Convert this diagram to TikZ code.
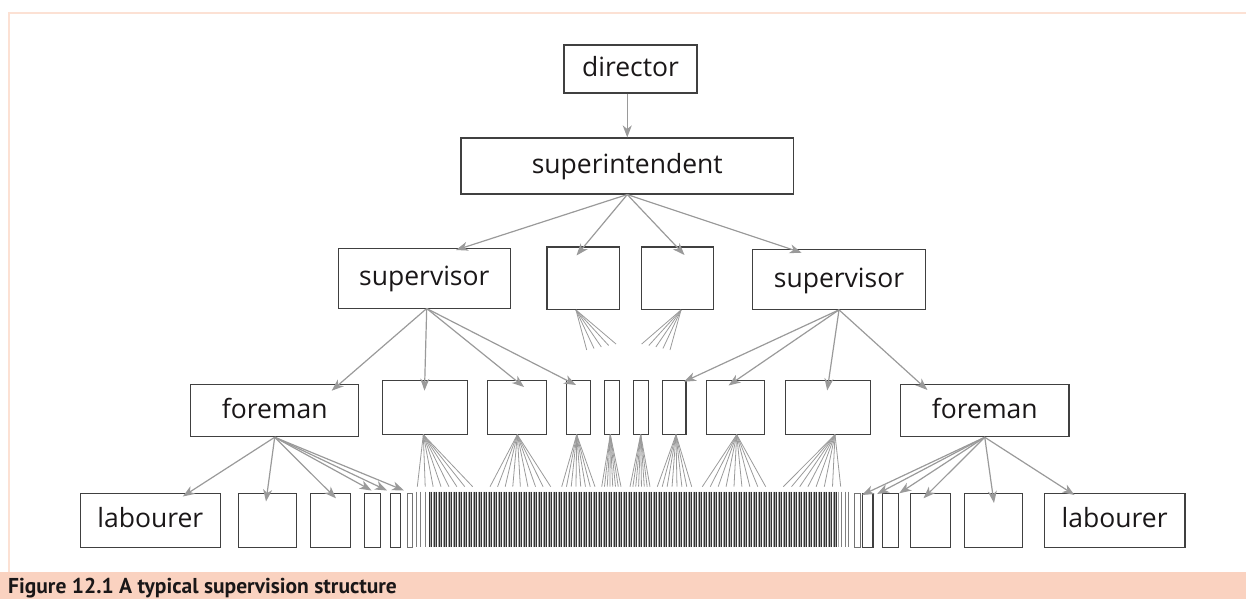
\documentclass[tikz,border=0pt]{standalone}
\usepackage{fontspec}
\setmainfont{Open Sans}
\newfontfamily\capfont{PT Sans}
\usetikzlibrary{arrows.meta,calc}
\definecolor{peach}{HTML}{FAD2C0}
\definecolor{framec}{HTML}{FCE1D4}
\definecolor{arrc}{HTML}{9A9A9A}
\definecolor{boxc}{HTML}{404040}
\definecolor{txtc}{HTML}{1A1718}
\newcommand\mybox[7][]{\node[box,#1,minimum width={#4-#3},minimum height={#6-#5}] (#2) at ({(#3+#4)/2},{(#5+#6)/2}) {#7};}
\newcommand\myfan[6]{\foreach \k in {0,...,#2}{\draw[fanl] (#1) -- ({#3+(#4-#3)*\k/#2},{#5+(#6-#5)*\k/#2});}}
\begin{document}
\begin{tikzpicture}[x=1pt,y=-1pt,
  box/.style={draw=boxc,line width=1.1pt,inner sep=0pt,text=txtc,
    font=\fontsize{26.5}{30}\selectfont,text height=20pt,text depth=5pt},
  arr/.style={draw=arrc,line width=1.2pt,-{Stealth[length=12pt,width=9pt,inset=3.5pt]}},
  fanl/.style={draw=arrc,line width=0.8pt},
  darkbar/.style={draw=black!80,line width=0.8pt},
  lightbar/.style={draw=black!35,line width=0.6pt},
  thinbar/.style={draw=black!50,line width=0.7pt}]
\useasboundingbox (0,0) rectangle (1246,599);
% frame and caption band
\fill[peach] (0,571.5) rectangle (1246,599);
\draw[framec,line width=2pt] (8.5,571.5) -- (8.5,13.5) -- (1246,13.5);
\node[anchor=base west,inner sep=0pt,text=txtc,font=\capfont\bfseries\fontsize{21.5}{24}\selectfont] (cap) at (8,593) {Figure 12.1 A typical supervision structure};
% level 1-3
\mybox{dir}{564}{697}{45}{93}{director}
\mybox{sup}{461}{793.5}{138}{194}{superintendent}
\mybox{svL}{338.4}{510.2}{248.3}{308.3}{supervisor}
\mybox{mA}{547}{619.3}{247}{309.5}{}
\mybox{mB}{641.6}{713.9}{247}{309.5}{}
\mybox{svR}{752.7}{925.3}{249.7}{309.3}{supervisor}
% foreman row
\mybox{fL}{190.7}{358.7}{384.3}{436.7}{foreman}
\mybox{fB}{382.3}{467.3}{380.5}{434.7}{}
\mybox{fC}{487.3}{546.3}{380.5}{434.7}{}
\mybox{fD}{566.3}{590.3}{380.5}{434.7}{}
\mybox{fE}{604.3}{619.3}{380.5}{434.7}{}
\mybox{fF}{633.3}{648.3}{380.5}{434.7}{}
\mybox{fG}{662.2}{686}{380.5}{434.7}{}
\mybox{fH}{706.2}{764.7}{380.5}{434.7}{}
\mybox{fI}{785.2}{870.3}{380.5}{434.7}{}
\mybox{fR}{900.5}{1069}{384.3}{436.7}{foreman}
% labourer row
\mybox{lL}{80.4}{220.2}{493.3}{547.3}{labourer}
\mybox{lB}{238.2}{296.5}{493.3}{547.3}{}
\mybox{lC}{310.2}{350.3}{493.3}{547.3}{}
\mybox{lD}{364.4}{380.5}{493.3}{547.3}{}
\mybox{lE}{390.5}{400.6}{493.3}{547.3}{}
\mybox[draw=black!55,line width=0.9pt]{lF}{407}{412}{493.3}{547.3}{}
\mybox[draw=black!55,line width=0.9pt]{rF}{854.3}{860.2}{493.3}{547.3}{}
\mybox{rE}{862.2}{873}{493.3}{547.3}{}
\mybox{rD}{882.4}{898.5}{493.3}{547.3}{}
\mybox{rC}{910.4}{950.5}{493.3}{547.3}{}
\mybox{rB}{964.3}{1022.6}{493.3}{547.3}{}
\mybox{lR}{1044.3}{1185}{493.3}{547.3}{labourer}
% dense bars of labourers
\foreach \x in {416.7,420.7,425,841.7,845,848.3}{\draw[thinbar] (\x,491.7) -- (\x,547.3);}
\foreach \i in {0,...,163}{
  \draw[darkbar] ({429+\i*2.5},491.7) -- ({429+\i*2.5},547.3);
  \draw[lightbar] ({430.3+\i*2.5},491.7) -- ({430.3+\i*2.5},547.3);}
% tip coordinates
\coordinate (tsvL) at (456,250);
\coordinate (tmA) at (576.5,255.5);
\coordinate (tmB) at (684.5,255);
\coordinate (tsvR) at (801.6,252.7);
\coordinate (osvL) at (426.7,308.5);
\coordinate (tfL) at (331.7,390.7);
\coordinate (tfB) at (424.5,390.7);
\coordinate (tfC) at (524,387);
\coordinate (tfD) at (576,385);
\coordinate (tfG) at (684,381.7);
\coordinate (tfH) at (728.5,385.5);
\coordinate (tfI) at (827.2,390.5);
\coordinate (tfR) at (927.4,390);
\coordinate (tlL) at (182.8,496.5);
\coordinate (tlB) at (266,501.5);
\coordinate (tlC) at (336,498.3);
\coordinate (tlD) at (371.6,490.5);
\coordinate (tlE) at (387,490.5);
\coordinate (tlF) at (404,490.5);
\coordinate (tlR) at (1074.5,495);
\coordinate (trB) at (994,503);
\coordinate (trC) at (923.5,498.3);
\coordinate (trD) at (899.2,493.3);
\coordinate (trE) at (877.1,494);
\coordinate (trF) at (862,495);
% arrows
\draw[arr] (dir.south -| sup.north) -- (sup.north);
\foreach \t in {tsvL,tmA,tmB,tsvR}{\draw[arr] (sup.south) -- (\t);}
\foreach \t in {tfL,tfB,tfC,tfD}{\draw[arr] (osvL) -- (\t);}
\foreach \t in {tfG,tfH,tfI,tfR}{\draw[arr] (svR.south) -- (\t);}
\foreach \t in {tlL,tlB,tlC,tlD,tlE,tlF}{\draw[arr] (fL.south) -- (\t);}
\foreach \t in {tlR,trB,trC,trD,trE,trF}{\draw[arr] (fR.south) -- (\t);}
% fans without arrowheads
\coordinate (omA) at (576,310);
\coordinate (omB) at (681,310);
\myfan{omA}{4}{586.7}{616}{350}{344}
\myfan{omB}{4}{641.7}{670}{344}{350}
\coordinate (ofB) at (423.3,434.7);
\coordinate (ofC) at (517.3,434.7);
\coordinate (ofD) at (576.7,434.7);
\coordinate (ofE) at (610.3,434.7);
\coordinate (ofF) at (640.7,434.7);
\coordinate (ofG) at (676,434.7);
\coordinate (ofH) at (736.7,434.7);
\coordinate (ofI) at (835,434.7);
\myfan{ofB}{7}{417.3}{472.7}{486.7}{486.7}
\myfan{ofC}{8}{490}{550.7}{486.7}{486.7}
\myfan{ofD}{7}{561.7}{595}{486.7}{486.7}
\myfan{ofE}{7}{601.7}{621}{486.7}{486.7}
\myfan{ofF}{7}{630}{650}{486.7}{486.7}
\myfan{ofG}{7}{657.3}{691.7}{486.7}{486.7}
\myfan{ofH}{8}{702.3}{765.7}{486.7}{486.7}
\myfan{ofI}{7}{783.3}{840.7}{486.7}{486.7}
\end{tikzpicture}
\end{document}
